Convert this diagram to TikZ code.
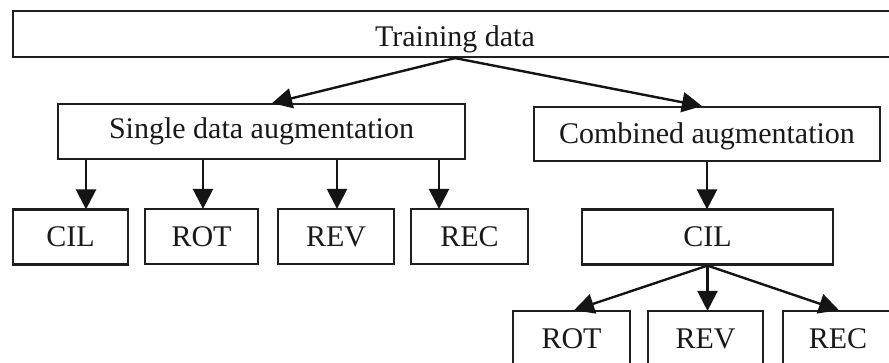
\documentclass[tikz,border=0pt]{standalone}
\usepackage{fontspec}
\setmainfont{Liberation Serif}
\usetikzlibrary{arrows.meta}
\newcommand{\lowertext}[2]{\raisebox{-#1}[\height][\depth]{#2}}
\begin{document}
\begin{tikzpicture}[x=1pt,y=-1pt,
  box/.style={draw=black!88, line width=2.2pt, inner sep=0pt, minimum height=55pt,
    font=\fontsize{30}{34}\selectfont, text=black!90},
  link/.style={draw=black!92, line width=2.4pt, -{Triangle[length=20pt,width=20pt]}, shorten >=-1pt}]
\useasboundingbox (0,0) rectangle (889,363);
\clip (0,0) rectangle (889,363);
\fill[white] (0,0) rectangle (889,363);

% top level
\node[box, minimum width=884pt, minimum height=46pt] (train) at (455,34) {\lowertext{5pt}{Training data}};

% two branches
\node[box, minimum width=407pt] (single) at (261.5,131.5) {Single data augmentation};
\node[box, minimum width=346pt, minimum height=54pt] (comb) at (707,134) {\lowertext{2pt}{Combined augmentation}};

% single augmentations
\node[box, minimum width=115pt] (cilA) at (70.5,237) {CIL};
\node[box, minimum width=113pt] (rotA) at (201.5,236.5) {ROT};
\node[box, minimum width=116pt] (revA) at (336,236.5) {REV};
\node[box, minimum width=117pt] (recA) at (469.5,236.5) {REC};

% combined chain
\node[box, minimum width=251pt] (cilB) at (707.5,237) {CIL};
\node[box, minimum width=117pt] (rotB) at (571.5,338.5) {ROT};
\node[box, minimum width=115pt] (revB) at (705.5,338.5) {REV};
\node[box, minimum width=110pt] (recB) at (838,338.5) {REC};

% connectors
\draw[link] (train.south) -- (single.north -| 273,0);
\draw[link] (train.south) -- (comb.north -| 701,0);

\draw[link] (single.south -| 86,0) -- (cilA.north -| 86,0);
\draw[link] (single.south -| 203,0) -- (rotA.north -| 203,0);
\draw[link] (single.south -| 337,0) -- (revA.north -| 337,0);
\draw[link] (single.south -| 439,0) -- (recA.north -| 439,0);

\draw[link] (comb.south) -- (cilB.north -| comb.south);
\draw[link] (cilB.south) -- (rotB.north -| 575,0);
\draw[link] (cilB.south) -- (revB.north -| cilB.south);
\draw[link] (cilB.south) -- (recB.north);
\end{tikzpicture}
\end{document}
